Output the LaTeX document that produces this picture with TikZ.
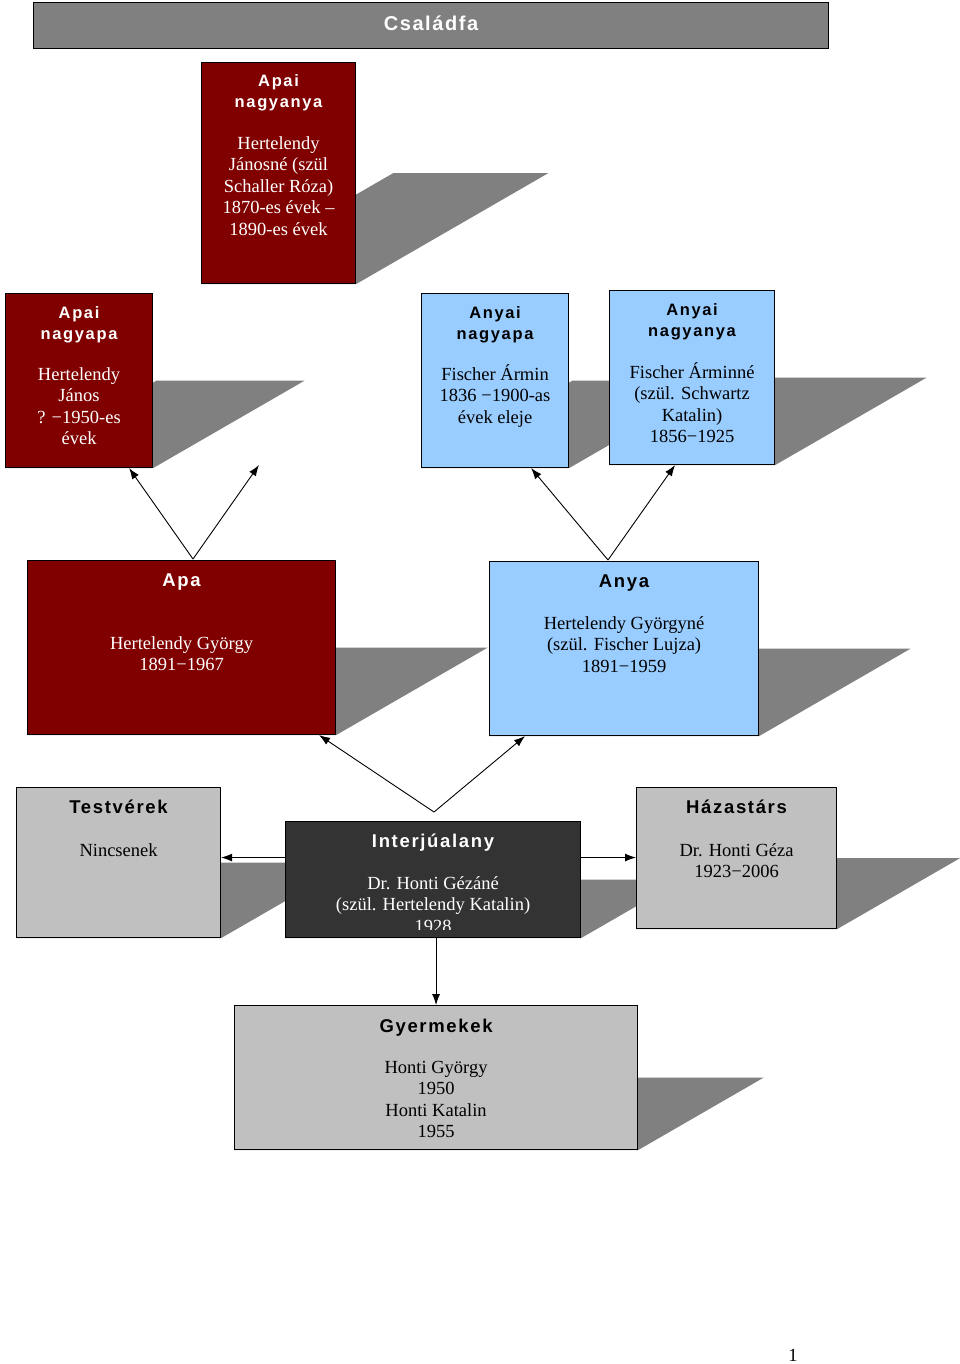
\documentclass[tikz,border=0pt]{standalone}
\usepackage{fontspec}
\setmainfont{Liberation Serif}
\newfontfamily\headfont[LetterSpace=10]{Liberation Sans}
\newfontfamily\headwide[LetterSpace=9]{Liberation Sans}
\newfontfamily\titlefont[LetterSpace=8]{Liberation Sans}
\usetikzlibrary{arrows.meta,positioning,backgrounds,calc}
\definecolor{famred}{HTML}{800000}
\definecolor{famblue}{HTML}{99CCFF}
\definecolor{famsilver}{HTML}{C0C0C0}
\definecolor{famdark}{HTML}{333333}
\definecolor{famgray}{HTML}{808080}

\begin{document}
\begin{tikzpicture}[x=1pt,y=-1pt,
    pbox/.style={draw=black, line width=1.1pt, inner sep=0pt, anchor=north west},
    father/.style={pbox, fill=famred},
    mother/.style={pbox, fill=famblue},
    other/.style={pbox, fill=famsilver},
    head/.style={inner sep=0pt, align=center, font=\headfont\bfseries\fontsize{16.5}{21}\selectfont},
    headw/.style={inner sep=0pt, align=center, font=\headwide\bfseries\fontsize{18.5}{21}\selectfont},
    body/.style={inner sep=0pt, align=center, font=\fontsize{18.5}{21.5}\selectfont},
    arr/.style={-{Latex[length=11pt,width=8pt]}, line width=0.9pt}]
    \useasboundingbox (0,0) rectangle (960,1364);

    % title bar
    \node[pbox, fill=famgray, minimum width=795pt, minimum height=46pt] (title) at (33,2) {};
    \node[text=white, inner sep=0pt, font=\titlefont\bfseries\fontsize{20}{22}\selectfont] (title-t) at ([yshift=2pt]title.center) {Családfa};

    % grandparents
    \node[father, minimum width=154pt, minimum height=221pt] (gmap) at (201,62) {};
    \node[head, text=white, below=12pt of gmap.north] (gmap-h) {Apai\\nagyanya};
    \node[body, text=white, below=74pt of gmap.north] (gmap-b) {Hertelendy\\Jánosné (szül\\Schaller Róza)\\1870-es évek –\\1890-es évek};

    \node[father, minimum width=147pt, minimum height=174pt] (gpap) at (5,293) {};
    \node[head, text=white, below=13pt of gpap.north] (gpap-h) {Apai\\nagyapa};
    \node[body, text=white, below=74pt of gpap.north] (gpap-b) {Hertelendy\\János\\? −1950-es\\évek};

    \node[mother, minimum width=147pt, minimum height=174pt] (gpam) at (421,293) {};
    \node[head, below=13pt of gpam.north] (gpam-h) {Anyai\\nagyapa};
    \node[body, below=71pt of gpam.north] (gpam-b) {Fischer Ármin\\1836 −1900-as\\évek eleje};

    \node[mother, minimum width=165pt, minimum height=174pt] (gmam) at (609,290) {};
    \node[head, below=13pt of gmam.north] (gmam-h) {Anyai\\nagyanya};
    \node[body, below=72pt of gmam.north] (gmam-b) {Fischer Árminné\\(szül. Schwartz\\Katalin)\\1856−1925};

    % parents
    \node[father, minimum width=308pt, minimum height=174pt] (apa) at (27,560) {};
    \node[headw, text=white, below=14pt of apa.north] (apa-h) {Apa};
    \node[body, text=white, below=76pt of apa.north] (apa-b) {Hertelendy György\\1891−1967};

    \node[mother, minimum width=269pt, minimum height=174pt] (anya) at (489,561) {};
    \node[headw, below=14pt of anya.north] (anya-h) {Anya};
    \node[body, below=55pt of anya.north] (anya-b) {Hertelendy Györgyné\\(szül. Fischer Lujza)\\1891−1959};

    % interviewee row
    \node[other, minimum width=204pt, minimum height=150pt] (testv) at (16,787) {};
    \node[headw, below=13pt of testv.north] (testv-h) {Testvérek};
    \node[body, below=56pt of testv.north] (testv-b) {Nincsenek};

    \node[pbox, fill=famdark, minimum width=295pt, minimum height=116pt] (interju) at (285,821) {};
    \node[headw, text=white, below=13pt of interju.north] (interju-h) {Interjúalany};
    \begin{scope}
        \clip ([yshift=9pt]interju.south west) rectangle (interju.north east);
        \node[body, text=white, below=55pt of interju.north] (interju-b) {Dr. Honti Gézáné\\(szül. Hertelendy Katalin)\\1928};
    \end{scope}

    \node[other, minimum width=200pt, minimum height=141pt] (hazas) at (636,787) {};
    \node[headw, below=13pt of hazas.north] (hazas-h) {Házastárs};
    \node[body, below=56pt of hazas.north] (hazas-b) {Dr. Honti Géza\\1923−2006};

    % children
    \node[other, minimum width=403pt, minimum height=144pt] (gyerm) at (234,1005) {};
    \node[headw, below=14pt of gyerm.north] (gyerm-h) {Gyermekek};
    \node[body, below=56pt of gyerm.north] (gyerm-b) {Honti György\\1950\\Honti Katalin\\1955};

    \node[body] (pagenum) at (793,1355) {1};

    % slanted shadows
    \begin{scope}[on background layer]
        \foreach \b in {gmap,gpap,gpam,gmam,apa,anya,testv,interju,hazas,gyerm}
            \fill[famgray] let \p1=(\b.north east), \p2=(\b.south west), \n1={\y1-\y2} in
                (\x2,\y2) -- (\x1,\y2) -- ++(30:{\n1*1pt}) -- ++({\x2-\x1},0) -- cycle;
    \end{scope}

    % connectors
    \coordinate (apa-v) at (193,559);
    \coordinate (gmap-tip) at (259,465);
    \draw[arr] (apa-v) -- ([xshift=-24pt]gpap.south east);
    \draw[arr] (apa-v) -- (gmap-tip);

    \coordinate (anya-v) at (608,560);
    \draw[arr] (anya-v) -- ([xshift=-38pt]gpam.south east);
    \draw[arr] (anya-v) -- ([xshift=66pt]gmam.south west);

    \coordinate (v-apex) at (434,812);
    \draw[arr] (v-apex) -- ([xshift=-17pt]apa.south east);
    \draw[arr] (v-apex) -- ([xshift=36pt]anya.south west);

    \draw[arr] ([yshift=22pt]interju.west) -- ([yshift=22pt]interju.west -| testv.east);
    \draw[arr] ([yshift=22pt]interju.east) -- ([yshift=22pt]interju.east -| hazas.west);
    \draw[arr] (gyerm.north |- interju.south) -- (gyerm.north);
\end{tikzpicture}
\end{document}
